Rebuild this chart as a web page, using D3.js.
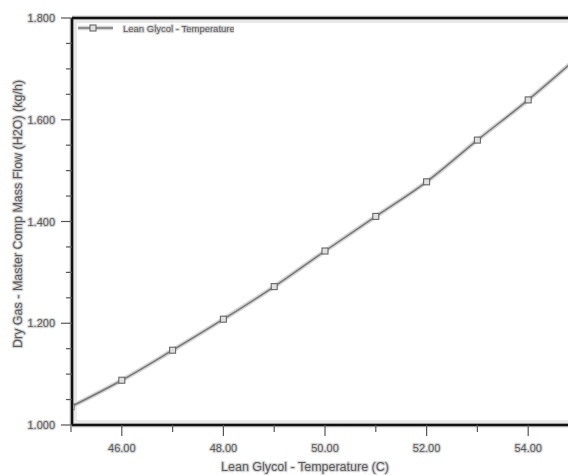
<!DOCTYPE html>
<html>
<head>
<meta charset="utf-8">
<script src="https://cdn.jsdelivr.net/npm/d3@7"></script>
<style>
  body { margin: 0; background: #fff; }
  svg { display: block; }
  .lbl { font-family: "Liberation Sans", Arial, sans-serif; fill: #5a5a5a; stroke: #d6d6d6; stroke-width: 2.4px; paint-order: stroke; stroke-linejoin: round; }
</style>
</head>
<body>
<div id="chart"></div>
<script>
// datos
const temps = [45, 46, 47, 48, 49, 50, 51, 52, 53, 54, 55]
const flows = [1.036, 1.088, 1.147, 1.208, 1.272, 1.342, 1.410, 1.478, 1.560, 1.639, 1.725]
const xTicks = [46, 48, 50, 52, 54]
const yTicks = [1.0, 1.2, 1.4, 1.6, 1.8]
const serieNombre = "Lean Glycol - Temperature"
const xTitulo = "Lean Glycol - Temperature (C)"
const yTitulo = "Dry Gas - Master Comp Mass Flow (H2O) (kg/h)"

const anchoTotal = 568
const altoTotal = 475
const plot = { left: 72, top: 18, right: 640, bottom: 425 }

const svg = d3.select("#chart").append("svg")
  .attr("width", anchoTotal)
  .attr("height", altoTotal)

const x = d3.scaleLinear().domain([45, 56]).range([71, 71 + 11 * 50.8])
const y = d3.scaleLinear().domain([1.0, 1.8]).range([plot.bottom, plot.top])

const fmtX = d3.format(".2f")
const fmtY = d3.format(",.3f")

// marco
svg.append("rect")
  .attr("x", plot.left + 4).attr("y", plot.top + 4)
  .attr("width", plot.right - plot.left).attr("height", plot.bottom - plot.top - 8)
  .attr("fill", "none").attr("stroke", "#d4d4d4").attr("stroke-width", 1)

const marco = [
  [[plot.left, plot.top], [plot.right, plot.top]],
  [[plot.left, plot.top], [plot.left, plot.bottom]],
  [[plot.left, plot.bottom], [plot.right, plot.bottom]],
]
marco.forEach(seg => {
  svg.append("line").attr("x1", seg[0][0]).attr("y1", seg[0][1]).attr("x2", seg[1][0]).attr("y2", seg[1][1])
    .attr("stroke", "#cfcfcf").attr("stroke-width", 5)
})
marco.forEach(seg => {
  svg.append("line").attr("x1", seg[0][0]).attr("y1", seg[0][1]).attr("x2", seg[1][0]).attr("y2", seg[1][1])
    .attr("stroke", "#111").attr("stroke-width", 2.5)
})

// eje Y
const yMinor = d3.range(1.0, 1.8001, 0.05)
yMinor.forEach(v => {
  const mayor = yTicks.some(t => Math.abs(t - v) < 1e-6)
  svg.append("line")
    .attr("x1", mayor ? plot.left - 11 : plot.left - 6).attr("x2", plot.left)
    .attr("y1", y(v)).attr("y2", y(v))
    .attr("stroke", "#555").attr("stroke-width", 1.2)
})
svg.selectAll(".ylab").data(yTicks).enter().append("text")
  .attr("class", "lbl")
  .attr("x", 55).attr("y", d => y(d) + 4)
  .attr("text-anchor", "end").attr("font-size", "11px")
  .text(d => fmtY(d))

// eje X
d3.range(45, 57, 1).forEach(v => {
  const mayor = xTicks.includes(v)
  svg.append("line")
    .attr("x1", x(v)).attr("x2", x(v))
    .attr("y1", plot.bottom).attr("y2", mayor ? plot.bottom + 11 : plot.bottom + 7)
    .attr("stroke", "#555").attr("stroke-width", 1.2)
})
svg.selectAll(".xlab").data(xTicks).enter().append("text")
  .attr("class", "lbl")
  .attr("x", d => x(d)).attr("y", 452)
  .attr("text-anchor", "middle").attr("font-size", "11px")
  .text(d => fmtX(d))

svg.append("text").attr("class", "lbl")
  .attr("x", 305).attr("y", 471)
  .attr("text-anchor", "middle").attr("font-size", "12.5px")
  .text(xTitulo)

svg.append("text").attr("class", "lbl")
  .attr("transform", "translate(22, 214) rotate(-90)")
  .attr("text-anchor", "middle").attr("font-size", "12.5px")
  .text(yTitulo)

// serie
const datos = temps.map((t, i) => ({ t: t, f: flows[i] }))
svg.append("clipPath").attr("id", "clipPlot")
  .append("rect").attr("x", plot.left + 1).attr("y", plot.top + 1)
  .attr("width", plot.right - plot.left).attr("height", plot.bottom - plot.top - 2)

const g = svg.append("g").attr("clip-path", "url(#clipPlot)")
const linea = d3.line().x(d => x(d.t)).y(d => y(d.f)).curve(d3.curveMonotoneX)

g.append("path").datum(datos).attr("d", linea)
  .attr("fill", "none").attr("stroke", "#d4d4d4").attr("stroke-width", 4.5)
g.append("path").datum(datos).attr("d", linea)
  .attr("fill", "none").attr("stroke", "#777").attr("stroke-width", 1.5)

g.selectAll(".mk").data(datos).enter().append("rect")
  .attr("x", d => x(d.t) - 3).attr("y", d => y(d.f) - 3)
  .attr("width", 6).attr("height", 6)
  .attr("fill", "#e0e0e0").attr("stroke", "#666").attr("stroke-width", 1.1)

// leyenda
svg.append("line").attr("x1", 78).attr("x2", 113).attr("y1", 28).attr("y2", 28)
  .attr("stroke", "#d4d4d4").attr("stroke-width", 4.5)
svg.append("line").attr("x1", 78).attr("x2", 113).attr("y1", 28).attr("y2", 28)
  .attr("stroke", "#777").attr("stroke-width", 1.5)
svg.append("rect").attr("x", 90).attr("y", 25).attr("width", 6).attr("height", 6)
  .attr("fill", "#e0e0e0").attr("stroke", "#666").attr("stroke-width", 1.1)

svg.append("clipPath").attr("id", "clipLeg")
  .append("rect").attr("x", 118).attr("y", 18).attr("width", 116).attr("height", 20)
svg.append("text").attr("class", "lbl")
  .attr("clip-path", "url(#clipLeg)")
  .attr("x", 123).attr("y", 31.5).attr("font-size", "9.5px")
  .text(serieNombre)
</script>
</body>
</html>
